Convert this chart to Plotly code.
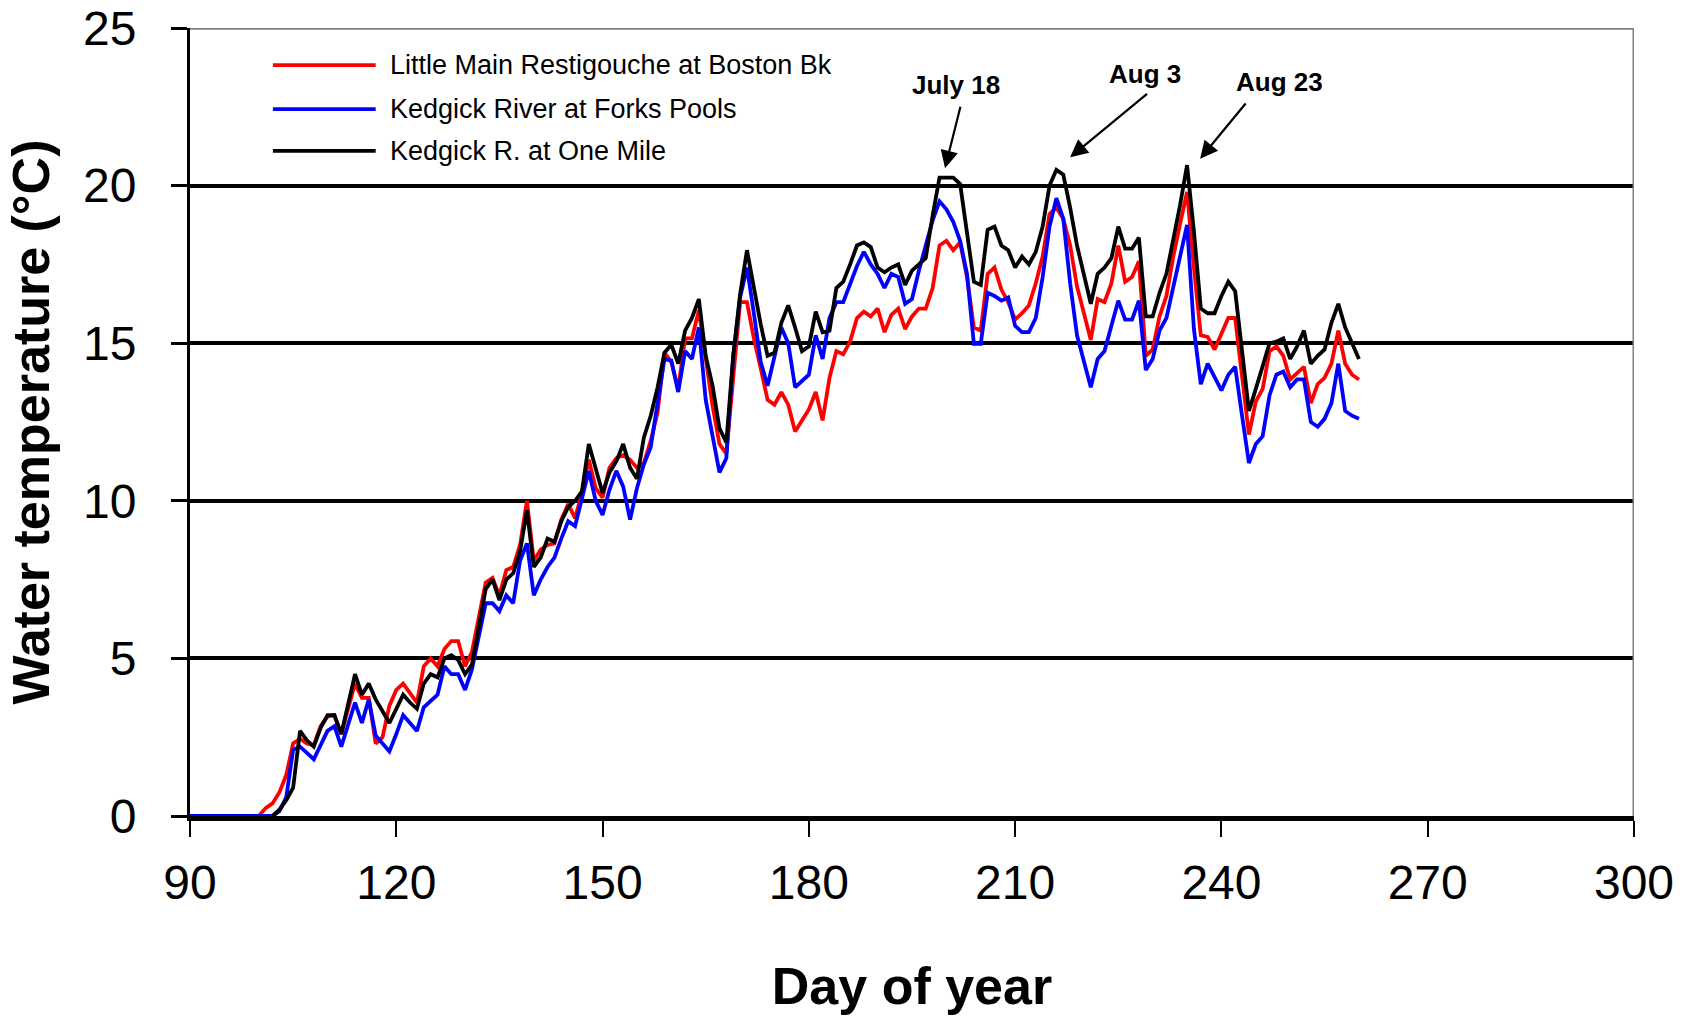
import plotly.graph_objects as go

days = list(range(90, 261))

series_names = [
    "Little Main Restigouche at Boston Bk",
    "Kedgick River at Forks Pools",
    "Kedgick R. at One Mile",
]
series_colors = ["#ff0000", "#0000ff", "#000000"]

# Little Main Restigouche at Boston Bk (days 90-260)
red_vals = [0]*11 + [
    0.25, 0.4, 0.75, 1.3, 2.3, 2.45, 2.3, 2.25, 2.85, 3.15,          # 101-110
    3.2, 2.6, 3.4, 4.2, 3.75, 3.75, 2.3, 2.5, 3.5, 4.0,              # 111-120
    4.2, 3.9, 3.6, 4.75, 5.0, 4.75, 5.3, 5.55, 5.55, 4.75,           # 121-130
    5.2, 6.3, 7.4, 7.55, 7.0, 7.8, 7.9, 8.6, 10.0, 8.1,              # 131-140
    8.45, 8.6, 8.65, 9.4, 9.9, 9.45, 10.25, 11.3, 10.4, 10.1,        # 141-150
    11.05, 11.35, 11.45, 11.3, 11.05, 11.2, 11.9, 12.8, 14.7, 14.4,  # 151-160
    13.55, 15.15, 15.15, 16.05, 14.5, 13.0, 11.8, 11.5, 13.9, 16.3,  # 161-170
    16.3, 15.15, 14.2, 13.2, 13.05, 13.45, 13.05, 12.2, 12.55, 12.9, # 171-180
    13.45, 12.55, 13.9, 14.75, 14.65, 15.05, 15.8, 16.0, 15.85, 16.1,# 181-190
    15.35, 15.9, 16.1, 15.45, 15.85, 16.1, 16.1, 16.75, 18.1, 18.25, # 191-200
    17.95, 18.2, 17.1, 15.5, 15.4, 17.2, 17.4, 16.7, 16.3, 15.75,    # 201-210
    15.95, 16.2, 16.9, 17.75, 19.1, 19.3, 18.95, 18.1, 16.8, 15.95,  # 211-220
    15.1, 16.4, 16.3, 16.9, 18.1, 16.95, 17.1, 17.6, 14.6, 14.8,     # 221-230
    15.85, 16.5, 17.75, 18.8, 19.8, 17.4, 15.25, 15.2, 14.8, 15.3,   # 231-240
    15.8, 15.8, 13.9, 12.1, 13.15, 13.55, 14.75, 14.9, 14.6, 13.85,  # 241-250
    14.05, 14.25, 13.1, 13.7, 13.9, 14.35, 15.4, 14.35, 14.0, 13.85, # 251-260
]

# Kedgick River at Forks Pools (days 90-260)
blue_vals = [0]*13 + [
    0.15, 0.6, 2.1, 2.2, 2.0, 1.8, 2.25,                             # 103-109
    2.7, 2.85, 2.2, 2.9, 3.6, 2.95, 3.7, 2.55, 2.3, 2.05,            # 110-119
    2.6, 3.2, 2.95, 2.7, 3.45, 3.65, 3.85, 4.75, 4.5, 4.5,           # 120-129
    4.0, 4.65, 5.75, 6.75, 6.75, 6.5, 7.0, 6.75, 8.1, 8.65,          # 130-139
    7.0, 7.5, 7.9, 8.2, 8.8, 9.35, 9.2, 10.1, 10.95, 10.0,           # 140-149
    9.55, 10.35, 10.95, 10.45, 9.4, 10.4, 11.15, 11.7, 13.05, 14.5,  # 150-159
    14.45, 13.45, 14.75, 14.5, 15.5, 13.2, 12.05, 10.9, 11.35, 14.6, # 160-169
    16.45, 17.4, 15.95, 14.4, 13.65, 14.6, 15.5, 15.0, 13.6, 13.8,   # 170-179
    14.0, 15.25, 14.5, 15.8, 16.3, 16.3, 16.9, 17.45, 17.9, 17.5,    # 180-189
    17.2, 16.75, 17.2, 17.1, 16.25, 16.4, 17.3, 18.1, 18.9, 19.5,    # 190-199
    19.25, 18.85, 18.25, 17.2, 14.98, 14.98, 16.6, 16.5, 16.35, 16.45,  # 200-209
    15.55, 15.35, 15.35, 15.8, 17.1, 18.7, 19.6, 18.95, 16.9, 15.25, # 210-219
    14.4, 13.6, 14.5, 14.75, 15.55, 16.35, 15.75, 15.75, 16.35, 14.15,  # 220-229
    14.5, 15.4, 15.8, 16.8, 17.8, 18.75, 15.45, 13.7, 14.35, 13.9,   # 230-239
    13.5, 14.0, 14.25, 12.7, 11.2, 11.8, 12.05, 13.35, 14.0, 14.1,   # 240-249
    13.6, 13.85, 13.85, 12.5, 12.35, 12.6, 13.1, 14.35, 12.85, 12.7, # 250-259
    12.6,                                                            # 260
]

# Kedgick R. at One Mile (record starts day 102)
black_vals = [None]*12 + [
    0.0, 0.2, 0.5, 0.9, 2.7, 2.4, 2.2, 2.8,                          # 102-109
    3.2, 3.2, 2.6, 3.5, 4.5, 3.85, 4.2, 3.7, 3.3, 2.95,              # 110-119
    3.4, 3.85, 3.6, 3.4, 4.2, 4.5, 4.4, 5.0, 5.1, 4.95,              # 120-129
    4.5, 4.8, 6.0, 7.2, 7.5, 6.85, 7.5, 7.7, 8.4, 9.7,               # 130-139
    7.9, 8.2, 8.8, 8.7, 9.35, 9.8, 10.0, 10.3, 11.8, 11.05,          # 140-149
    10.25, 10.9, 11.25, 11.8, 11.05, 10.7, 12.0, 12.7, 13.6, 14.7,   # 150-159
    14.95, 14.35, 15.4, 15.8, 16.4, 14.6, 13.65, 12.3, 11.85, 14.6,  # 160-169
    16.55, 17.95, 16.75, 15.6, 14.6, 14.7, 15.65, 16.2, 15.5, 14.75, # 170-179
    14.9, 16.0, 15.35, 15.4, 16.75, 16.95, 17.5, 18.1, 18.2, 18.05,  # 180-189
    17.4, 17.25, 17.4, 17.5, 16.85, 17.3, 17.5, 17.7, 19.05, 20.25,  # 190-199
    20.25, 20.25, 20.05, 18.6, 16.95, 16.85, 18.6, 18.7, 18.1, 17.95,# 200-209
    17.4, 17.75, 17.5, 17.9, 18.7, 20.0, 20.5, 20.35, 19.3, 18.1,    # 210-219
    17.2, 16.25, 17.2, 17.4, 17.7, 18.7, 18.0, 18.0, 18.35, 15.85,   # 220-229
    15.85, 16.6, 17.2, 18.25, 19.4, 20.65, 18.55, 16.1, 15.95, 15.95,# 230-239
    16.5, 16.95, 16.65, 14.75, 12.85, 13.55, 14.3, 15.0, 15.05, 15.15,  # 240-249
    14.5, 14.9, 15.4, 14.35, 14.6, 14.8, 15.65, 16.25, 15.5, 15.0,   # 250-259
    14.5,                                                            # 260
]

x_ticks = [90, 120, 150, 180, 210, 240, 270, 300]
y_ticks = [0, 5, 10, 15, 20, 25]

# callouts: label, arrow tip (day, temp), arrow tail (day, temp), text position (day, temp)
callout_labels = ["July 18", "Aug 3", "Aug 23"]
callout_tips = [(199.8, 20.55), (218.0, 20.9), (236.9, 20.85)]
callout_tails = [(202.1, 22.55), (229.4, 22.95), (243.7, 22.65)]
callout_text_pos = [(201.4, 23.2), (228.9, 23.55), (248.5, 23.3)]

assert len(red_vals) == len(days)
assert len(blue_vals) == len(days)
assert len(black_vals) == len(days)

FONT = "Liberation Sans, Arial, Helvetica, sans-serif"

fig = go.Figure()
for name, vals, color in zip(series_names, [red_vals, blue_vals, black_vals], series_colors):
    fig.add_trace(go.Scatter(
        x=days, y=vals, mode="lines", name=name,
        line=dict(color=color, width=3.8),
        connectgaps=False, showlegend=False,
    ))

# manual legend (long line swatches like the original)
legend_rows_y = [0.953, 0.897, 0.844]
for name, color, ly in zip(series_names, series_colors, legend_rows_y):
    fig.add_shape(type="line", xref="paper", yref="paper",
                  x0=0.0574, x1=0.1286, y0=ly, y1=ly,
                  line=dict(color=color, width=3.8))
    fig.add_annotation(xref="paper", yref="paper", x=0.1369, y=ly,
                       text=name, showarrow=False, xanchor="left", yanchor="middle",
                       font=dict(family=FONT, size=27, color="black"))

# grey top and right frame
fig.add_shape(type="line", xref="x", yref="y", x0=90, x1=300, y0=25, y1=25,
              line=dict(color="#808080", width=3.5), layer="above")
fig.add_shape(type="line", xref="x", yref="y", x0=300, x1=300, y0=0, y1=25,
              line=dict(color="#808080", width=3), layer="above")

for lab, tip, tail, tp in zip(callout_labels, callout_tips, callout_tails, callout_text_pos):
    fig.add_annotation(x=tip[0], y=tip[1], ax=tail[0], ay=tail[1],
                       xref="x", yref="y", axref="x", ayref="y",
                       text="", showarrow=True, arrowhead=2, arrowsize=1.6,
                       arrowwidth=2.2, arrowcolor="black")
    fig.add_annotation(x=tp[0], y=tp[1], xref="x", yref="y", text="<b>%s</b>" % lab,
                       showarrow=False, xanchor="center", yanchor="middle",
                       font=dict(family=FONT, size=26, color="black"))

fig.update_layout(
    width=1700, height=1017,
    margin=dict(l=190, r=66, t=28, b=201),
    paper_bgcolor="white", plot_bgcolor="white",
    font=dict(family=FONT, color="black"),
    xaxis=dict(
        range=[90, 300], tickvals=x_ticks, ticktext=[str(v) for v in x_ticks],
        ticks="outside", ticklen=16, tickwidth=2, tickcolor="black",
        showline=True, linecolor="black", linewidth=4.5,
        showgrid=False, zeroline=False, layer="below traces",
        automargin=False, ticklabeloverflow="allow",
        tickfont=dict(family=FONT, size=48, color="black"),
        ticklabelstandoff=5,
        title=dict(text="<b>Day of year</b>", standoff=61,
                   font=dict(family=FONT, size=52, color="black")),
    ),
    yaxis=dict(
        range=[0, 25], tickvals=y_ticks, ticktext=[str(v) for v in y_ticks],
        ticks="outside", ticklen=16, tickwidth=3, tickcolor="black",
        showline=True, linecolor="black", linewidth=3,
        showgrid=True, gridcolor="black", gridwidth=3.5,
        zeroline=False, layer="below traces",
        automargin=False, ticklabeloverflow="allow",
        tickfont=dict(family=FONT, size=48, color="black"),
        ticklabelstandoff=25,
        title=dict(text="<b>Water temperature (°C)</b>", standoff=17,
                   font=dict(family=FONT, size=52, color="black")),
    ),
)

# remove the default 8 px page margin so the figure sits at the window's top-left
fig.write_html("out.html",
               config={"displayModeBar": False},
               post_script="document.body.style.margin='0px';document.body.style.padding='0px';")
